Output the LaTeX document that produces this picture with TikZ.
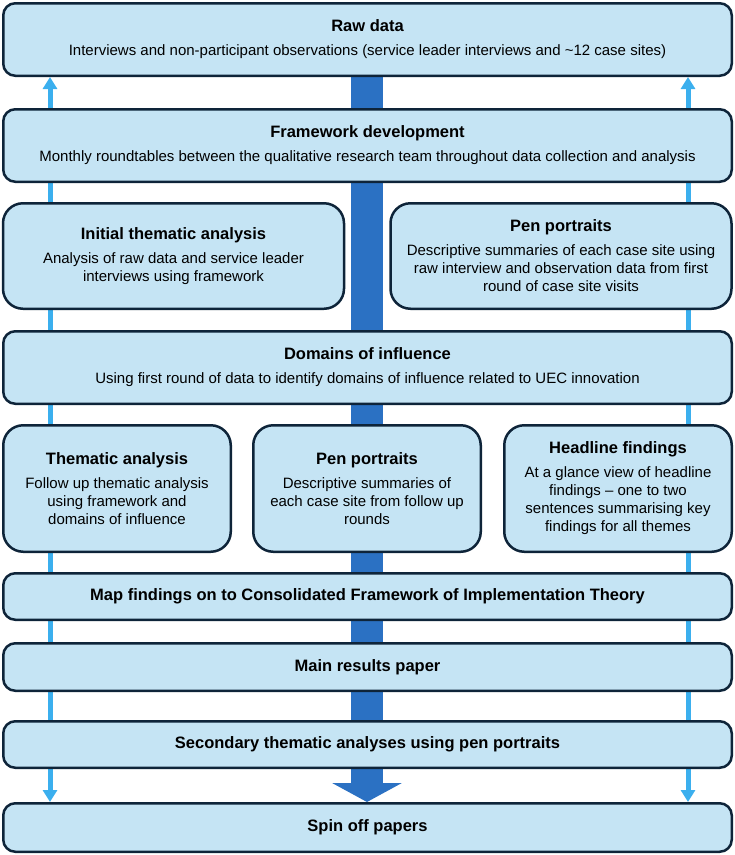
\documentclass[tikz,border=0pt]{standalone}
\usepackage{fontspec}
\setmainfont{Liberation Sans}
\usetikzlibrary{arrows.meta}
\definecolor{boxfill}{HTML}{C5E4F4}
\definecolor{boxline}{HTML}{0E2439}
\definecolor{spine}{HTML}{2B71C3}
\definecolor{sideline}{HTML}{3BAFEE}
\tikzset{
  basebox/.style={draw=boxline, line width=2.5pt, fill=boxfill, align=center, inner sep=0pt,
    font=\fontsize{15}{18}\selectfont},
  widebox/.style={basebox, rounded corners=12pt, minimum width=728.5pt},
  halfbox/.style={basebox, rounded corners=20pt, minimum width=341pt, minimum height=105.5pt},
  thirdbox/.style={basebox, rounded corners=20pt, minimum width=227.5pt, minimum height=126.5pt},
  sidearrow/.style={draw=sideline, line width=5pt, {Triangle[width=14pt,length=12pt]}-{Triangle[width=14pt,length=12pt]}},
  spinearrow/.style={draw=spine, line width=32pt, -{Triangle[width=69pt,length=19pt]}}
}
\newcommand{\bxttl}[1]{{\fontsize{16.5}{18}\selectfont\bfseries #1}}
\begin{document}
\begin{tikzpicture}[x=1pt,y=-1pt]
\useasboundingbox (0,0) rectangle (735,855);
\path
  (367.5,39.5) coordinate (craw)
  (367.5,145.5) coordinate (cfw)
  (173.5,256) coordinate (cinit)
  (561,256) coordinate (cpen1)
  (367.5,367.5) coordinate (cdom)
  (117,488.5) coordinate (cthem)
  (367,488.5) coordinate (cpen2)
  (618,488.5) coordinate (chead)
  (367.5,596.5) coordinate (cmap)
  (367.5,667) coordinate (cmain)
  (367.5,744.5) coordinate (csec)
  (367.5,827.5) coordinate (cspin);
% anchors for connectors (same geometry as the first and last boxes)
\node[widebox, minimum height=72.5pt, draw=none, fill=none] (rawA) at (craw) {};
\node[widebox, minimum height=48.5pt, draw=none, fill=none] (spinA) at (cspin) {};
\coordinate (lx) at (50,0);
\coordinate (rx) at (688,0);
\coordinate (mx) at (367,0);
\draw[sidearrow] (rawA.south -| lx) -- (spinA.north -| lx);
\draw[sidearrow] (rawA.south -| rx) -- (spinA.north -| rx);
\draw[spinearrow] (rawA.south -| mx) -- (spinA.north -| mx);
% boxes
\node[widebox, minimum height=72.5pt] (raw) at (craw)
  {\bxttl{Raw data}\\[6pt]Interviews and non-participant observations (service leader interviews and \textasciitilde12 case sites)};
\node[widebox, minimum height=72.5pt] (fw) at (cfw)
  {\bxttl{Framework development}\\[6pt]Monthly roundtables between the qualitative research team throughout data collection and analysis};
\node[halfbox] (init) at (cinit)
  {\bxttl{Initial thematic analysis}\\[6pt]Analysis of raw data and service leader\\interviews using framework};
\node[halfbox] (pen1) at (cpen1)
  {\bxttl{Pen portraits}\\[6pt]Descriptive summaries of each case site using\\raw interview and observation data from first\\round of case site visits};
\node[widebox, minimum height=72.5pt] (dom) at (cdom)
  {\bxttl{Domains of influence}\\[6pt]Using first round of data to identify domains of influence related to UEC innovation};
\node[thirdbox] (them) at (cthem)
  {\bxttl{Thematic analysis}\\[6pt]Follow up thematic analysis\\using framework and\\domains of influence};
\node[thirdbox] (pen2) at (cpen2)
  {\bxttl{Pen portraits}\\[6pt]Descriptive summaries of\\each case site from follow up\\rounds};
\node[thirdbox] (head) at (chead)
  {\bxttl{Headline findings}\\[6pt]At a glance view of headline\\findings -- one to two\\sentences summarising key\\findings for all themes};
\node[widebox, minimum height=46.5pt] (map) at (cmap)
  {\bxttl{Map findings on to Consolidated Framework of Implementation Theory}};
\node[widebox, minimum height=47.5pt] (main) at (cmain)
  {\bxttl{Main results paper}};
\node[widebox, minimum height=46.5pt] (sec) at (csec)
  {\bxttl{Secondary thematic analyses using pen portraits}};
\node[widebox, minimum height=48.5pt] (spin) at (cspin)
  {\bxttl{Spin off papers}};
\end{tikzpicture}
\end{document}
